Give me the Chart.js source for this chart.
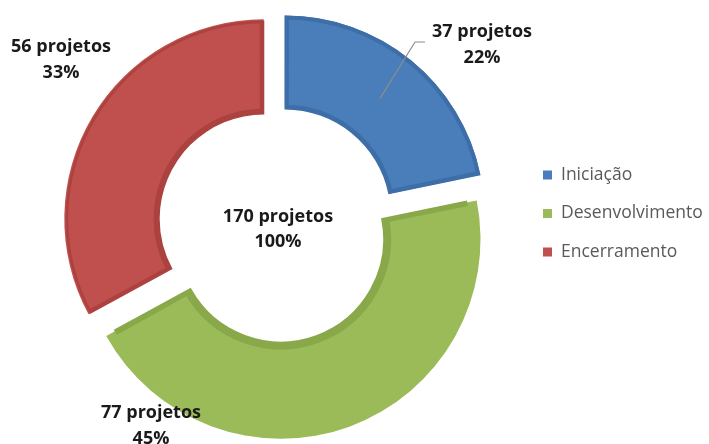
<!DOCTYPE html>
<html>
<head>
<meta charset="utf-8">
<script src="https://cdn.jsdelivr.net/npm/chart.js@4"></script>
<style>
  html, body { margin: 0; padding: 0; background: #ffffff; }
  #wrap { width: 709px; height: 444px; }
</style>
</head>
<body>
<div id="wrap"><canvas id="chart" width="709" height="444"></canvas></div>
<script>
// Chart data
const categories = ['Iniciação', 'Desenvolvimento', 'Encerramento'];
const projectCounts = [37, 77, 56];
const percentLabels = ['22%', '45%', '33%'];
const totalLabels = ['170 projetos', '100%'];

// Colours (Excel 2007 palette)
const fillColors = ['#4A7EBB', '#9BBB59', '#C0504D'];
const edgeColors = ['#3E6EA8', '#89A84A', '#AC423F'];

// Label anchors, relative to the ring centre
const labelOffsets = [[206, -181], [-125, 200], [-215, -166]];

const labelFont = 'bold 18px "Open Sans"';
const legendFont = '17.5px "Open Sans"';

// Chart.js also grows the radius of wide slices when they are offset;
// undo that so every exploded slice keeps the same ring width
const evenRingPlugin = {
    id: 'evenRing',
    afterUpdate(chart) {
        chart.getDatasetMeta(0).data.forEach(arc => {
            const circ = arc.endAngle - arc.startAngle;
            const grow = (arc.options.offset / 4) * (1 - Math.sin(Math.min(Math.PI, circ)));
            arc.outerRadius -= grow;
            arc.innerRadius -= grow;
        });
    }
};

const labelsPlugin = {
    id: 'labels',
    afterDraw(chart) {
        const ctx = chart.ctx;
        const arcs = chart.getDatasetMeta(0).data;
        const cx = arcs[0].x, cy = arcs[0].y;

        ctx.save();
        ctx.font = labelFont;
        ctx.fillStyle = '#1a1a1a';
        ctx.textAlign = 'center';
        ctx.textBaseline = 'middle';

        // slice labels
        arcs.forEach((arc, i) => {
            const [dx, dy] = labelOffsets[i];
            ctx.fillText(projectCounts[i] + ' projetos', cx + dx, cy + dy - 13);
            ctx.fillText(percentLabels[i], cx + dx, cy + dy + 13);
        });

        // centre total
        ctx.fillText(totalLabels[0], cx + 2, cy - 9);
        ctx.fillText(totalLabels[1], cx + 2, cy + 16);

        // leader line for the first slice
        const a = arcs[0];
        const mid = (a.startAngle + a.endAngle) / 2;
        const r = (a.innerRadius + a.outerRadius) / 2 - 2;
        const off = a.options.offset / 4;
        const sx = a.x + Math.cos(mid) * (r + off);
        const sy = a.y + Math.sin(mid) * (r + off);
        ctx.strokeStyle = '#8c8c8c';
        ctx.lineWidth = 1.2;
        ctx.beginPath();
        ctx.moveTo(sx, sy);
        ctx.lineTo(cx + 139, cy - 184);
        ctx.lineTo(cx + 149, cy - 184);
        ctx.stroke();

        // legend
        ctx.font = legendFont;
        ctx.textAlign = 'left';
        const lx = 543, ly = 175, step = 38.5;
        categories.forEach((name, i) => {
            const y = ly + i * step;
            ctx.fillStyle = fillColors[i];
            ctx.fillRect(lx, y - 4.5, 9, 9);
            ctx.fillStyle = '#595959';
            ctx.fillText(name, lx + 18, y);
        });
        ctx.restore();
    }
};

new Chart(document.getElementById('chart'), {
    type: 'doughnut',
    data: {
        labels: categories,
        datasets: [{
            data: projectCounts,
            backgroundColor: fillColors,
            borderColor: edgeColors,
            borderWidth: 4,
            borderAlign: 'inner',
            offset: 56,
            hoverOffset: 0
        }]
    },
    options: {
        responsive: false,
        animation: false,
        radius: 200,
        cutout: '53%',
        layout: { padding: { left: 0, right: 157, top: 8, bottom: 0 } },
        plugins: {
            legend: { display: false },
            tooltip: { enabled: false }
        }
    },
    plugins: [evenRingPlugin, labelsPlugin]
});
</script>
</body>
</html>
